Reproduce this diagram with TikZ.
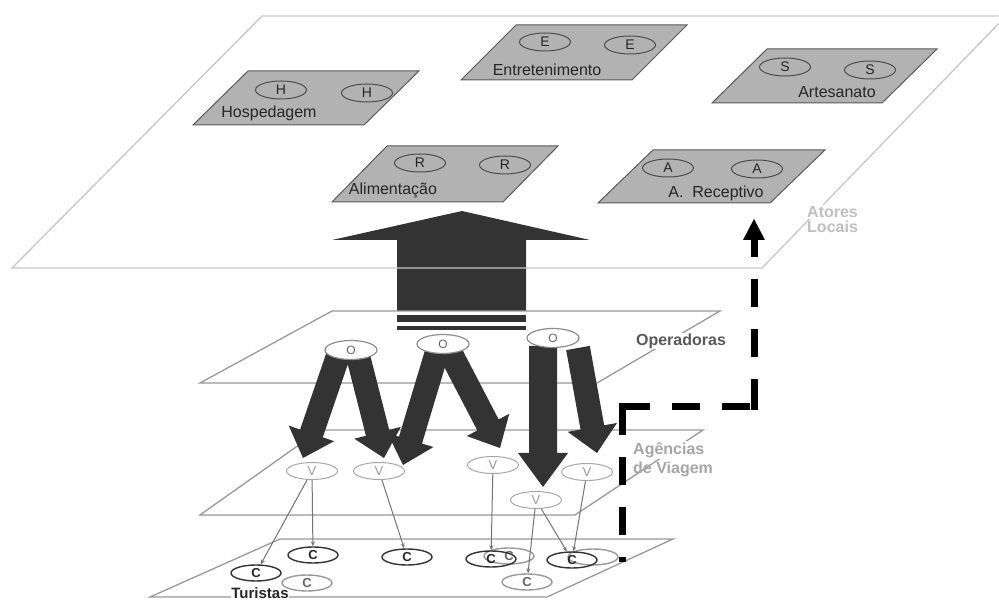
\documentclass[tikz,border=0pt]{standalone}
\usepackage{fontspec}
\setmainfont{Liberation Sans}
\usetikzlibrary{shapes.geometric,arrows.meta,calc}

\tikzset{
  topplane/.style={draw=black!22, line width=1.3pt},
  planeline/.style={draw=black!40, line width=1.3pt},
  gbox/.style={draw=black!65, fill=black!30, line width=1pt},
  actor/.style={ellipse, draw=black!70, line width=1pt, minimum width=51pt, minimum height=18pt, inner sep=0pt, font=\fontsize{14}{14}\selectfont, text=black!85},
  oper/.style={ellipse, draw=black!45, fill=white, line width=1.2pt, minimum width=52pt, minimum height=19pt, inner sep=0pt, font=\fontsize{12}{12}\selectfont, text=black!60},
  agent/.style={ellipse, draw=black!35, line width=1pt, minimum width=51pt, minimum height=17pt, inner sep=0pt, font=\fontsize{13}{13}\selectfont, text=black!40},
  tourist/.style={ellipse, draw=black!80, line width=1.4pt, minimum width=50pt, minimum height=16pt, inner sep=0pt, font=\bfseries\fontsize{13}{13}\selectfont, text=black!85},
  touristb/.style={tourist, draw=black!40, text=black!60},
  thinarrow/.style={draw=black!55, line width=1pt, -{Stealth[length=5pt,width=4pt]}},
  boxlabel/.style={font=\fontsize{16}{16}\selectfont, text=black!85, inner sep=0pt},
  layerlabel/.style={font=\bfseries\fontsize{16}{16}\selectfont, inner sep=1pt, fill=white},
  bigarrow/.style={fill=black!80, draw=none},
  dashline/.style={line width=7pt, dash pattern=on 28pt off 22pt, line cap=butt},
}

\newcommand{\fatarr}[5]{%
  \coordinate (hb) at ($(#2)!#5!(#1)$);
  \fill[bigarrow] ($(#1)!#3!90:(#2)$) -- ($(hb)!#3!-90:(#1)$) -- ($(hb)!#4!-90:(#1)$) -- (#2)
     -- ($(hb)!#4!90:(#1)$) -- ($(hb)!#3!90:(#1)$) -- ($(#1)!#3!-90:(#2)$) -- cycle;
}

\begin{document}
\begin{tikzpicture}[x=1pt,y=-1pt]
\useasboundingbox (0,0) rectangle (999,601);
\fill[white] (0,0) rectangle (999,601);

% big upward arrow (operators to local actors)
\fill[bigarrow] (397,311) -- (397,240) -- (332,240) -- (462,211) -- (590,240) -- (526,240) -- (526,311) -- cycle;
\fill[bigarrow] (397,315) rectangle (526,322);
\fill[bigarrow] (397,326) rectangle (526,330);

% layer planes
\draw[topplane] (12,268) -- (262,16) -- (1006,16) -- (762,268) -- cycle;
\draw[planeline] (200,383) -- (332,311) -- (720,311) -- (597,383) -- cycle;
\draw[planeline] (200,515) -- (320,430) -- (703,430) -- (575,515) -- cycle;
\draw[planeline] (150,597) -- (280,539) -- (673,539) -- (547,597) -- cycle;

% layer labels
\node[layerlabel, text=black!25, anchor=west] (atores) at (806,212) {Atores};
\node[layerlabel, text=black!25, anchor=west, fill=none] (locais) at (806,227) {Locais};
\node[layerlabel, text=black!65] (operadoras) at (681,341) {Operadoras};
\node[layerlabel, text=black!35, anchor=west] (agencias) at (632,450) {Agências};
\node[layerlabel, text=black!35, anchor=west, fill=none] (viagem) at (632,469) {de Viagem};
\node[layerlabel, text=black!85, font=\bfseries\fontsize{15}{15}\selectfont, inner sep=0.5pt] (turistas) at (260,593) {Turistas};

% local actor boxes
\draw[gbox] (248,71) -- ++(171,0) -- ++(-55,54) -- ++(-171,0) -- cycle;
\draw[gbox] (516,25) -- ++(171,0) -- ++(-55,55) -- ++(-171,0) -- cycle;
\draw[gbox] (767,49) -- ++(170,0) -- ++(-55,54) -- ++(-170,0) -- cycle;
\draw[gbox] (387,146) -- ++(171,0) -- ++(-55,56) -- ++(-171,0) -- cycle;
\draw[gbox] (653,150) -- ++(172,0) -- ++(-55,53) -- ++(-172,0) -- cycle;

\node[boxlabel] (hosp) at (269,113) {Hospedagem};
\node[boxlabel] (entr) at (547,70) {Entretenimento};
\node[boxlabel] (arte) at (837,92) {Artesanato};
\node[boxlabel] (alim) at (393,190) {Alimentação};
\node[boxlabel] (rece) at (716,193) {A.~ Receptivo};

\node[actor] (h1) at (281,90) {H};
\node[actor] (h2) at (367,93) {H};
\node[actor] (e1) at (545,42) {E};
\node[actor] (e2) at (630,45) {E};
\node[actor] (s1) at (785,67) {S};
\node[actor] (s2) at (870,70) {S};
\node[actor] (r1) at (420,163) {R};
\node[actor] (r2) at (505,165) {R};
\node[actor] (a1) at (668,168) {A};
\node[actor] (a2) at (757,169) {A};

% fat arrows operators -> agencies
\coordinate (f1s) at (338,356); \coordinate (f1t) at (303,458);
\coordinate (f2s) at (358,356); \coordinate (f2t) at (384,458);
\coordinate (f3s) at (437,352); \coordinate (f3t) at (403,465);
\coordinate (f4s) at (450,352); \coordinate (f4t) at (500,448);
\coordinate (f5s) at (543,346); \coordinate (f5t) at (543,487);
\coordinate (f6s) at (578,348); \coordinate (f6t) at (597,453);
\fatarr{f1s}{f1t}{12pt}{24pt}{26pt}
\fatarr{f2s}{f2t}{12pt}{24pt}{26pt}
\fatarr{f3s}{f3t}{12pt}{24pt}{26pt}
\fatarr{f4s}{f4t}{12pt}{24pt}{26pt}
\fatarr{f5s}{f5t}{14pt}{25pt}{34pt}
\fatarr{f6s}{f6t}{12pt}{25pt}{26pt}

\node[oper] (o1) at (351,350) {O};
\node[oper] (o2) at (443,344) {O};
\node[oper] (o3) at (553,338) {O};

% agencies
\node[agent] (v1) at (312,471) {V};
\node[agent] (v2) at (379,471) {V};
\node[agent] (v3) at (493,465) {V};
\node[agent] (v4) at (587,472) {V};
\node[agent] (v5) at (536,500) {V};

% tourists
\node[tourist] (c1) at (313,555) {C};
\node[tourist] (c2) at (256,573) {C};
\node[touristb] (c3) at (307,583) {C};
\node[tourist] (c4) at (407,557) {C};
\node[touristb] (c6) at (509,556) {C};
\node[tourist] (c5) at (491,559) {C};
\node[touristb] (c8) at (593,557) {};
\node[tourist] (c7) at (572,560) {C};
\node[touristb] (c9) at (527,582) {C};

\draw[thinarrow] (v1) -- (c2);
\draw[thinarrow] (v1) -- (c1);
\draw[thinarrow] (v2) -- (c4);
\draw[thinarrow] (v3) -- (c5);
\draw[thinarrow] (v5) -- (c9);
\draw[thinarrow] (v5) -- (c7);
\draw[thinarrow] (v4) -- (c7);

% dashed feedback line tourists -> receptive agency
\coordinate (d0) at (622,562);
\coordinate (d1) at (622,407);
\coordinate (d2) at (754,407);
\coordinate (d3) at (754,240);
\coordinate (dtip) at (754,219);
\draw[dashline] (d1) -- (d0);
\draw[dashline] (d1) -- (d2);
\draw[dashline] (d2) -- (d3);
\fill ($(d1)+(-3.5,-3.5)$) rectangle ($(d1)+(3.5,3.5)$);
\fill ($(d2)+(-3.5,-3.5)$) rectangle ($(d2)+(3.5,3.5)$);
\fill ($(d3)+(-11,0)$) -- (dtip) -- ($(d3)+(11,0)$) -- cycle;
\end{tikzpicture}
\end{document}
